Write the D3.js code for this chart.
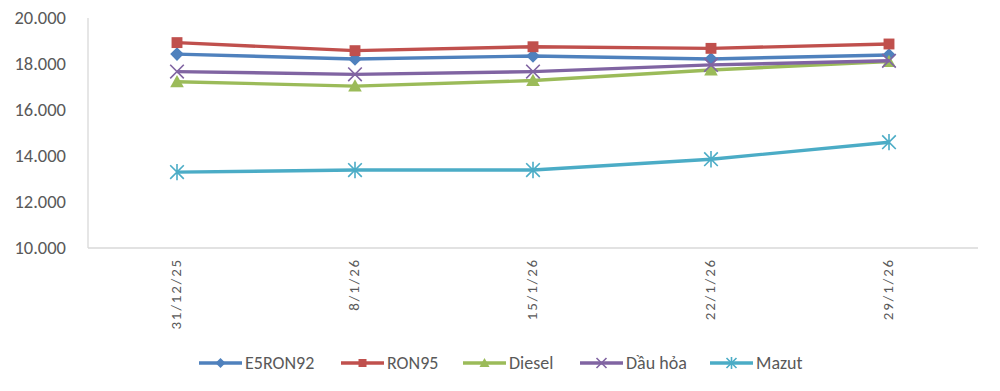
<!DOCTYPE html>
<html><head><meta charset="utf-8">
<script src="https://cdn.jsdelivr.net/npm/d3@7"></script>
<style>body{margin:0;background:#fff;}svg{display:block;font-family:Carlito,Calibri,"Liberation Sans",Arial,sans-serif;}</style>
</head><body>
<svg id="c" width="1000" height="391"></svg>
<script>
const categories = ["31/12/25","8/1/26","15/1/26","22/1/26","29/1/26"];
const e5ron92 = [18430,18220,18350,18220,18390];
const ron95 = [18930,18580,18750,18680,18870];
const diesel = [17230,17040,17280,17740,18110];
const dauHoa = [17670,17550,17670,17960,18140];
const mazut = [13300,13390,13390,13860,14600];
const yTicks = [10000,12000,14000,16000,18000,20000];
const seriesNames = ["E5RON92","RON95","Diesel","Dầu hỏa","Mazut"];

const series = [
  {name:seriesNames[0], values:e5ron92, color:"#4F81BD", marker:"diamond"},
  {name:seriesNames[1], values:ron95, color:"#C0504D", marker:"square"},
  {name:seriesNames[2], values:diesel, color:"#9BBB59", marker:"triangle"},
  {name:seriesNames[3], values:dauHoa, color:"#8064A2", marker:"x"},
  {name:seriesNames[4], values:mazut, color:"#4BACC6", marker:"star"}
];

const FONT = "Carlito,Calibri,'Liberation Sans',Arial,sans-serif";
const svg = d3.select("#c");
const L = 88, R = 978, T = 18, B = 248;
const x = d3.scaleBand().domain(categories).range([L, R]);
const y = d3.scaleLinear().domain([10000, 20000]).range([B, T]);
const fmt = v => d3.format(",")(v).replace(/,/g, ".");

// axes lines
svg.append("line").attr("x1",L).attr("x2",L).attr("y1",T).attr("y2",B).attr("stroke","#d9d9d9").attr("stroke-width",1.3);
svg.append("line").attr("x1",L).attr("x2",R).attr("y1",B).attr("y2",B).attr("stroke","#d9d9d9").attr("stroke-width",1.3);

// y labels
const yAxis = d3.axisLeft(y).tickValues(yTicks).tickSize(0).tickPadding(22).tickFormat(fmt);
const gy = svg.append("g").attr("transform",`translate(${L},0)`).call(yAxis);
gy.select(".domain").remove();
gy.selectAll("text").attr("fill","#595959").style("font-size","18.5px").style("font-family",FONT);

// x labels
const xAxis = d3.axisBottom(x).tickSize(0).tickPadding(0);
const gx = svg.append("g").attr("transform",`translate(0,${B})`).call(xAxis);
gx.select(".domain").remove();
gx.selectAll("text")
  .attr("fill","#595959").style("font-size","15px").style("letter-spacing","1.8px")
  .style("font-family",FONT)
  .attr("text-anchor","end").attr("dy","0.32em")
  .attr("transform","translate(-1,10) rotate(-90)")
  .attr("x",0).attr("y",0);

function marker(g, type, color, size) {
  const s = size;
  if (type === "diamond") {
    g.append("path").attr("d", `M0,${-s}L${s},0L0,${s}L${-s},0Z`).attr("fill", color);
  } else if (type === "square") {
    g.append("rect").attr("x",-s*0.8).attr("y",-s*0.8).attr("width",s*1.6).attr("height",s*1.6).attr("fill",color);
  } else if (type === "triangle") {
    g.append("path").attr("d", `M0,${-s}L${s},${s*0.8}L${-s},${s*0.8}Z`).attr("fill", color);
  } else if (type === "x") {
    g.append("path").attr("d", `M${-s},${-s}L${s},${s}M${-s},${s}L${s},${-s}`).attr("stroke", color).attr("stroke-width",1.6).attr("fill","none");
  } else if (type === "star") {
    g.append("path").attr("d", `M${-s},${-s}L${s},${s}M${-s},${s}L${s},${-s}M0,${-s*1.2}L0,${s*1.2}`).attr("stroke", color).attr("stroke-width",1.6).attr("fill","none");
  }
}

const line = d3.line().x((d,i)=>x(categories[i])+x.bandwidth()/2).y(d=>y(d));
series.forEach(s => {
  svg.append("path").datum(s.values).attr("d", line).attr("fill","none")
    .attr("stroke", s.color).attr("stroke-width",3.4).attr("stroke-linejoin","round");
  s.values.forEach((v,i) => {
    const g = svg.append("g").attr("transform",`translate(${x(categories[i])+x.bandwidth()/2},${y(v)})`);
    marker(g, s.marker, s.color, 6.8);
  });
});

// legend
const legX = [199, 341, 463, 580, 710];
const legY = 363;
series.forEach((s,i) => {
  const g = svg.append("g").attr("transform",`translate(${legX[i]},${legY})`);
  g.append("line").attr("x1",0).attr("x2",43).attr("y1",0).attr("y2",0).attr("stroke",s.color).attr("stroke-width",3.4);
  const m = g.append("g").attr("transform","translate(21.5,0)");
  marker(m, s.marker, s.color, 5);
  g.append("text").attr("x",46).attr("y",0).attr("dy","0.35em").attr("fill","#595959")
    .style("font-size","18px").style("font-family",FONT).text(s.name);
});
</script>
</body></html>
